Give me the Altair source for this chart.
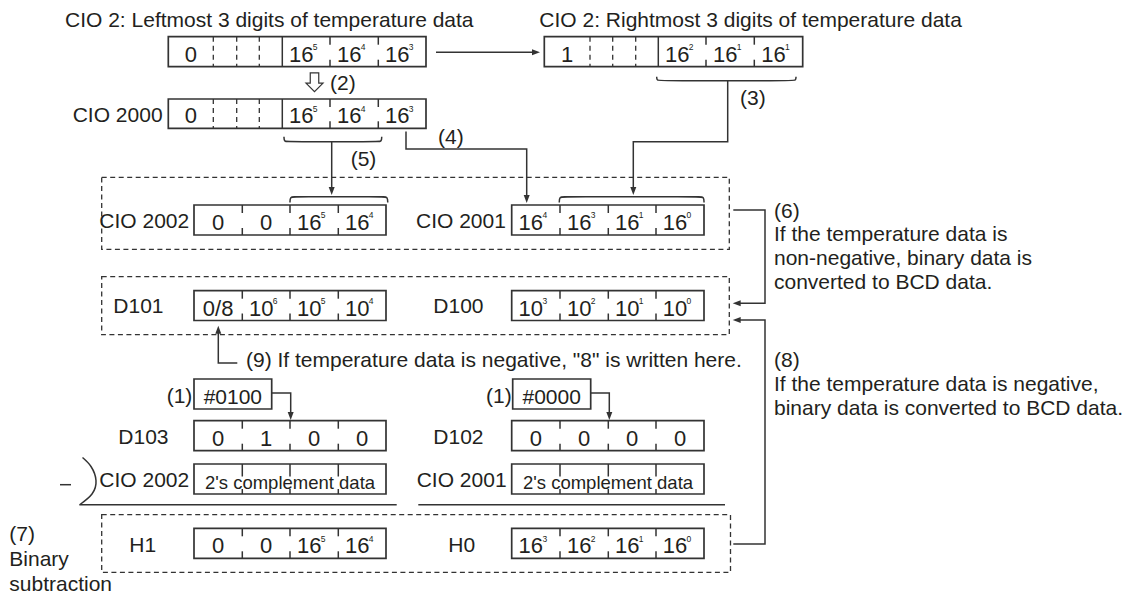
import altair as alt
import pandas as pd

FONT = "Liberation Sans"
INK = "#231f20"
LINE = "#333333"
W, H = 1115, 586

# ---------------- data ----------------
# vertical extents of register rows (top, bottom)
row_src = (36.7, 66.7)
row_cio2000 = (99.0, 128.3)
row_cio200x = (205.0, 235.0)
row_dm = (290.7, 320.5)
row_const = (379.0, 409.0)
row_d10x = (420.7, 450.7)
row_comp = (464.0, 494.0)
row_h = (528.3, 558.3)

# cell edges
wide_edges_L = [168.3, 213.3, 236.7, 259.3, 282.3, 330.0, 378.3, 426.0]
wide_edges_R = [544.3, 590.0, 612.7, 635.7, 658.3, 706.0, 754.3, 802.7]
quad_edges_L = [194.0, 242.3, 290.0, 338.3, 386.0]
quad_edges_R = [511.7, 560.0, 608.3, 656.0, 704.0]
const_edges_L = [194.0, 271.7]
const_edges_R = [512.7, 590.7]

wide_kinds = ["dash", "dash", "dash", "solid", "tick", "tick"]
quad_kinds = ["tick", "tick", "tick"]
comp_kinds = ["toptick", "toptick", "toptick"]

# registers: (edges, row, divider kinds, digit texts, exponents)
registers = [
    (wide_edges_L, row_src, wide_kinds, ["0", "", "", "", "16", "16", "16"], ["", "", "", "", "5", "4", "3"]),
    (wide_edges_R, row_src, wide_kinds, ["1", "", "", "", "16", "16", "16"], ["", "", "", "", "2", "1", "1"]),
    (wide_edges_L, row_cio2000, wide_kinds, ["0", "", "", "", "16", "16", "16"], ["", "", "", "", "5", "4", "3"]),
    (quad_edges_L, row_cio200x, quad_kinds, ["0", "0", "16", "16"], ["", "", "5", "4"]),
    (quad_edges_R, row_cio200x, quad_kinds, ["16", "16", "16", "16"], ["4", "3", "1", "0"]),
    (quad_edges_L, row_dm, quad_kinds, ["0/8", "10", "10", "10"], ["", "6", "5", "4"]),
    (quad_edges_R, row_dm, quad_kinds, ["10", "10", "10", "10"], ["3", "2", "1", "0"]),
    (const_edges_L, row_const, [], ["#0100"], [""]),
    (const_edges_R, row_const, [], ["#0000"], [""]),
    (quad_edges_L, row_d10x, quad_kinds, ["0", "1", "0", "0"], ["", "", "", ""]),
    (quad_edges_R, row_d10x, quad_kinds, ["0", "0", "0", "0"], ["", "", "", ""]),
    (quad_edges_L, row_comp, comp_kinds, ["", "", "", ""], ["", "", "", ""]),
    (quad_edges_R, row_comp, comp_kinds, ["", "", "", ""], ["", "", "", ""]),
    (quad_edges_L, row_h, quad_kinds, ["0", "0", "16", "16"], ["", "", "5", "4"]),
    (quad_edges_R, row_h, quad_kinds, ["16", "16", "16", "16"], ["3", "2", "1", "0"]),
]

comp_text = "2's complement data"
comp_centers = [290.0, 608.0]

# dashed group frames (x0, x1, y0, y1)
frame_x0 = [101.7, 101.7, 101.7]
frame_x1 = [729.3, 729.3, 730.5]
frame_y0 = [177.3, 276.7, 514.7]
frame_y1 = [249.3, 334.7, 572.3]

# free labels (text, x, baseline)
labels = [
    ("CIO 2: Leftmost 3 digits of temperature data", 65.0, 27.3),
    ("CIO 2: Rightmost 3 digits of temperature data", 539.3, 27.3),
    ("(2)", 330.0, 90.2),
    ("CIO 2000", 72.7, 121.7),
    ("(4)", 438.0, 144.2),
    ("(3)", 740.0, 105.2),
    ("(5)", 350.7, 165.8),
    ("CIO 2002", 99.3, 228.2),
    ("CIO 2001", 416.0, 228.2),
    ("(6)", 774.0, 218.3),
    ("If the temperature data is", 774.0, 240.5),
    ("non-negative, binary data is", 774.0, 264.5),
    ("converted to BCD data.", 774.0, 288.5),
    ("D101", 113.3, 313.2),
    ("D100", 433.3, 313.2),
    ('(9) If temperature data is negative, "8" is written here.', 246.0, 367.2),
    ("(8)", 774.0, 366.8),
    ("If the temperature data is negative,", 774.0, 391.0),
    ("binary data is converted to BCD data.", 774.0, 414.5),
    ("(1)", 166.7, 402.5),
    ("(1)", 486.0, 402.5),
    ("D103", 118.3, 444.2),
    ("D102", 433.3, 444.2),
    ("CIO 2002", 99.3, 486.5),
    ("CIO 2001", 416.7, 486.5),
    ("(7)", 9.3, 540.8),
    ("Binary", 9.3, 565.7),
    ("subtraction", 9.3, 590.7),
    ("H1", 129.3, 552.2),
    ("H0", 448.3, 552.2),
]

# connector polylines
connectors = {
    "top": [(436.0, 52.3), (536.0, 52.3)],
    "p4": [(406.0, 131.5), (406.0, 149.0), (526.7, 149.0), (526.7, 197.0)],
    "p5": [(331.7, 141.7), (331.7, 190.0)],
    "p3": [(727.7, 80.7), (727.7, 141.7), (633.3, 141.7), (633.3, 190.0)],
    "p6": [(733.3, 210.0), (765.0, 210.0), (765.0, 303.3), (737.0, 303.3)],
    "p8": [(733.3, 544.0), (765.0, 544.0), (765.0, 320.0), (737.0, 320.0)],
    "p9": [(237.3, 363.0), (218.3, 363.0), (218.3, 330.0)],
    "p1L": [(271.7, 393.0), (290.7, 393.0), (290.7, 414.0)],
    "p1R": [(590.7, 393.0), (609.3, 393.0), (609.3, 414.0)],
}
arrow_tips = [
    (540.0, 52.3, "right"),
    (331.7, 195.0, "down"),
    (526.7, 203.0, "down"),
    (633.3, 195.0, "down"),
    (290.7, 420.0, "down"),
    (609.3, 420.0, "down"),
    (732.7, 303.3, "left"),
    (732.7, 320.0, "left"),
    (218.3, 325.7, "up"),
]
# braces: (x0, x1, line y, end y)
braces = [
    (284.0, 381.7, 141.7, 136.7),
    (656.7, 796.0, 80.7, 76.7),
    (290.0, 387.7, 196.7, 202.5),
    (559.3, 704.0, 196.7, 202.5),
]
# straight strokes: (x0, x1, y)
strokes = [(79.3, 396.7, 504.7), (418.3, 725.0, 504.7), (60.0, 71.0, 484.7)]
paren = [(82.5, 457.5), (91.0, 466.5), (96.0, 480.5), (92.0, 494.0), (80.0, 504.5)]
hollow_arrow = (314.5, 82.2)

# ---------------- tables ----------------
box_rows, solid_rows, dash_rows, cell_rows, sup_rows = [], [], [], [], []
for edges, (y0, y1), kinds, bases, sups in registers:
    box_rows.append(dict(x0=edges[0], x1=edges[-1], y0=y0, y1=y1))
    for e, k in zip(edges[1:-1], kinds):
        if k == "dash":
            dash_rows.append(dict(x0=e, x1=e, y0=y0, y1=y1))
        elif k == "solid":
            solid_rows.append(dict(x0=e, x1=e, y0=y0, y1=y1))
        elif k == "tick":
            solid_rows.append(dict(x0=e, x1=e, y0=y0, y1=y0 + 8))
            solid_rows.append(dict(x0=e, x1=e, y0=y1 - 7, y1=y1))
        else:
            solid_rows.append(dict(x0=e, x1=e, y0=y0, y1=y0 + 12.5))
            solid_rows.append(dict(x0=e, x1=e, y0=y1 - 5, y1=y1))
    for i, (b, s) in enumerate(zip(bases, sups)):
        if not b:
            continue
        cx = (edges[i] + edges[i + 1]) / 2
        bx = cx - 5 if s else cx
        fs = 21 if b.startswith("#") else 22
        cell_rows.append(dict(x=bx, y=y1 - 5, t=b, s=fs))
        if s:
            sup_rows.append(dict(x=bx + 11.6, y=y1 - 16.7, t=s, s=8.5))
for c in comp_centers:
    cell_rows.append(dict(x=c, y=row_comp[1] - 5.5, t=comp_text, s=18.5))

for x0, x1, y in strokes:
    solid_rows.append(dict(x0=x0, x1=x1, y0=y, y1=y))

frames = pd.DataFrame(dict(x0=frame_x0, x1=frame_x1, y0=frame_y0, y1=frame_y1))
boxes = pd.DataFrame(box_rows)
solids = pd.DataFrame(solid_rows)
dashes = pd.DataFrame(dash_rows)
cells = pd.DataFrame(cell_rows)
supers = pd.DataFrame(sup_rows)
free = pd.DataFrame([dict(t=t, x=x, y=y) for t, x, y in labels])

poly = pd.DataFrame([dict(id=k, o=i, x=p[0], y=p[1]) for k, pts in connectors.items() for i, p in enumerate(pts)])
brace_pts = []
for j, (x0, x1, yl, ye) in enumerate(braces):
    for i, (x, y) in enumerate([(x0, ye), (x0, yl), (x0 + 5, yl), (x1 - 5, yl), (x1, yl), (x1, ye)]):
        brace_pts.append(dict(id=j, o=i, x=x, y=y))
brace_df = pd.DataFrame(brace_pts)
paren_df = pd.DataFrame([dict(o=i, x=x, y=y) for i, (x, y) in enumerate(paren)])

shapes = {
    "down": "M0,0L-0.75,-2L0.75,-2Z",
    "up": "M0,0L-0.75,2L0.75,2Z",
    "right": "M0,0L-2,-0.75L-2,0.75Z",
    "left": "M0,0L2,-0.75L2,0.75Z",
}
tips = pd.DataFrame([dict(x=x, y=y, shape=shapes[d]) for x, y, d in arrow_tips])
hollow = pd.DataFrame([dict(x=hollow_arrow[0], y=hollow_arrow[1])])

# ---------------- chart ----------------
XS = alt.Scale(domain=[8, 8 + W], nice=False, zero=False)
YS = alt.Scale(domain=[8, 8 + H], nice=False, zero=False, reverse=True)


def xy(xf="x", yf="y"):
    return dict(x=alt.X(f"{xf}:Q", scale=XS, axis=None), y=alt.Y(f"{yf}:Q", scale=YS, axis=None))


def span():
    return dict(
        x=alt.X("x0:Q", scale=XS, axis=None), x2="x1",
        y=alt.Y("y0:Q", scale=YS, axis=None), y2="y1",
    )


frame_layer = alt.Chart(frames).mark_rect(
    fill="white", fillOpacity=0, stroke=LINE, strokeWidth=1.3, strokeDash=[5, 3.5]
).encode(**span())
box_layer = alt.Chart(boxes).mark_rect(
    fill="white", stroke=LINE, strokeWidth=1.7
).encode(**span())
solid_layer = alt.Chart(solids).mark_rule(color=LINE, strokeWidth=1.5).encode(**span())
dash_layer = alt.Chart(dashes).mark_rule(color=LINE, strokeWidth=1.3, strokeDash=[5, 4]).encode(**span())

poly_layer = alt.Chart(poly).mark_line(color=LINE, strokeWidth=1.5).encode(
    **xy(), detail="id:N", order="o:Q")
brace_layer = alt.Chart(brace_df).mark_line(color=LINE, strokeWidth=1.5, interpolate="basis").encode(
    **xy(), detail="id:N", order="o:Q")
paren_layer = alt.Chart(paren_df).mark_line(color=LINE, strokeWidth=1.5, interpolate="natural").encode(
    **xy(), order="o:Q")
tip_layer = alt.Chart(tips).mark_point(filled=True, color=LINE, opacity=1, size=64, strokeWidth=0).encode(
    **xy(), shape=alt.Shape("shape:N", scale=None))
hollow_layer = alt.Chart(hollow).mark_point(
    filled=False, color=LINE, opacity=1, size=289, strokeWidth=1.2,
    shape="M-0.5,-1.1L0.5,-1.1L0.5,0.1L1,0.1L0,1.1L-1,0.1L-0.5,0.1Z",
).encode(**xy())

free_layer = alt.Chart(free).mark_text(
    align="left", baseline="alphabetic", font=FONT, fontSize=21, color=INK
).encode(**xy(), text="t:N")
cell_layer = alt.Chart(cells).mark_text(
    align="center", baseline="alphabetic", font=FONT, color=INK
).encode(**xy(), text="t:N", size=alt.Size("s:Q", scale=None))
sup_layer = alt.Chart(supers).mark_text(
    align="left", baseline="alphabetic", font=FONT, color=INK
).encode(**xy(), text="t:N", size=alt.Size("s:Q", scale=None))

chart = alt.layer(
    frame_layer, box_layer, solid_layer, dash_layer, poly_layer, brace_layer, paren_layer,
    tip_layer, hollow_layer, free_layer, cell_layer, sup_layer,
).properties(
    width=W, height=H, padding=0, background="white",
    autosize=alt.AutoSizeParams(type="none"),
).configure_view(strokeWidth=0)

chart.save("out.html", embed_options={"renderer": "svg", "actions": False})
